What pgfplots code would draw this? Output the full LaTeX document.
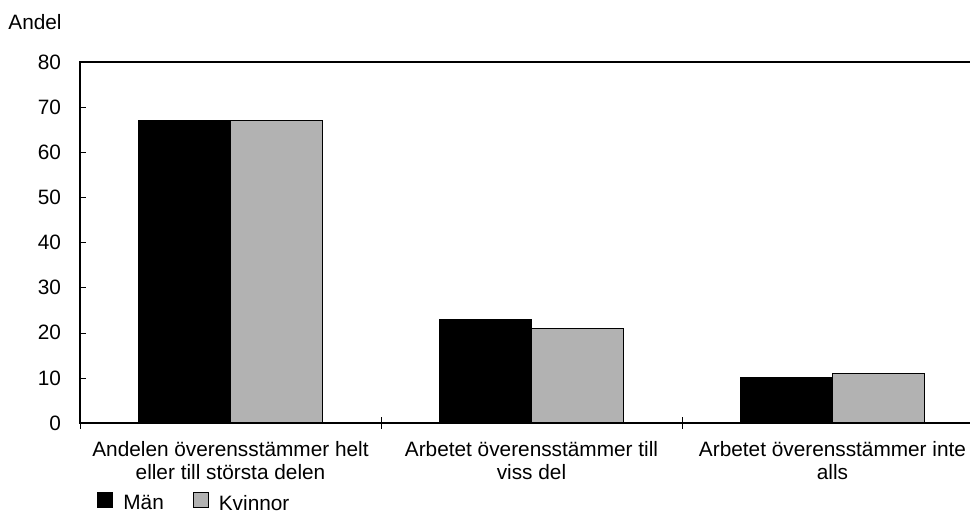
\documentclass[border=0pt]{standalone}
\usepackage{fontspec}
\setmainfont{Liberation Sans}
\usepackage{pgfplots}
\pgfplotsset{compat=1.18}
\definecolor{kvgrey}{RGB}{178,178,178}
\pgfplotsset{sqlegend/.style={legend image code/.code={\draw[##1] (0pt,-1.65pt) rectangle (7.5pt,5.85pt);}}}

\begin{document}
\begin{tikzpicture}[font=\fontsize{10.4}{11.5}\selectfont]
\begin{axis}[
    at={(0,0)}, anchor=south west,
    scale only axis,
    width=451.5pt, height=180.5pt,
    ybar=0pt, bar width=46pt,
    ymin=0, ymax=80, ytick={0,10,...,80},
    xmin=-0.5, xmax=2.5,
    xtick={-0.5,0.5,1.5,2.5},
    x tick label as interval,
    xticklabels={{Andelen överensstämmer helt\\eller till största delen},
                 {Arbetet överensstämmer till\\viss del},
                 {Arbetet överensstämmer inte\\alls}},
    xticklabel style={align=center, yshift=-5.8pt},
    yticklabel style={xshift=-6pt},
    /pgf/number format/assume math mode=true,
    tick align=inside,
    xtick pos=bottom, ytick pos=left,
    ytick style={/pgfplots/major tick length=3pt, black},
    xtick style={/pgfplots/major tick length=6pt, yshift=-3pt, black},
    axis line style={line width=0.6pt, black},
    every axis y label/.style={at={(rel axis cs:0,1)}, anchor=base west,
        inner sep=0pt, xshift=-36pt, yshift=16.5pt},
    ylabel={Andel},
    legend style={at={(rel axis cs:0,0)}, anchor=west, draw=none, fill=none,
        xshift=5.5pt, yshift=-40.5pt, legend columns=-1,
        /tikz/every odd column/.append style={column sep=3pt},
        /tikz/every even column/.append style={column sep=12.5pt}},
]
\addplot[fill=black, draw=black, line width=0.5pt, sqlegend]
coordinates {(0,67) (1,23) (2,10)};
\addplot[fill=kvgrey, draw=black, line width=0.5pt, sqlegend]
coordinates {(0,67) (1,21) (2,11)};
\legend{Män,Kvinnor}
\end{axis}
\pgfresetboundingbox
\useasboundingbox (-40pt,-44.5pt) rectangle (445pt,211.5pt);
\end{tikzpicture}
\end{document}
